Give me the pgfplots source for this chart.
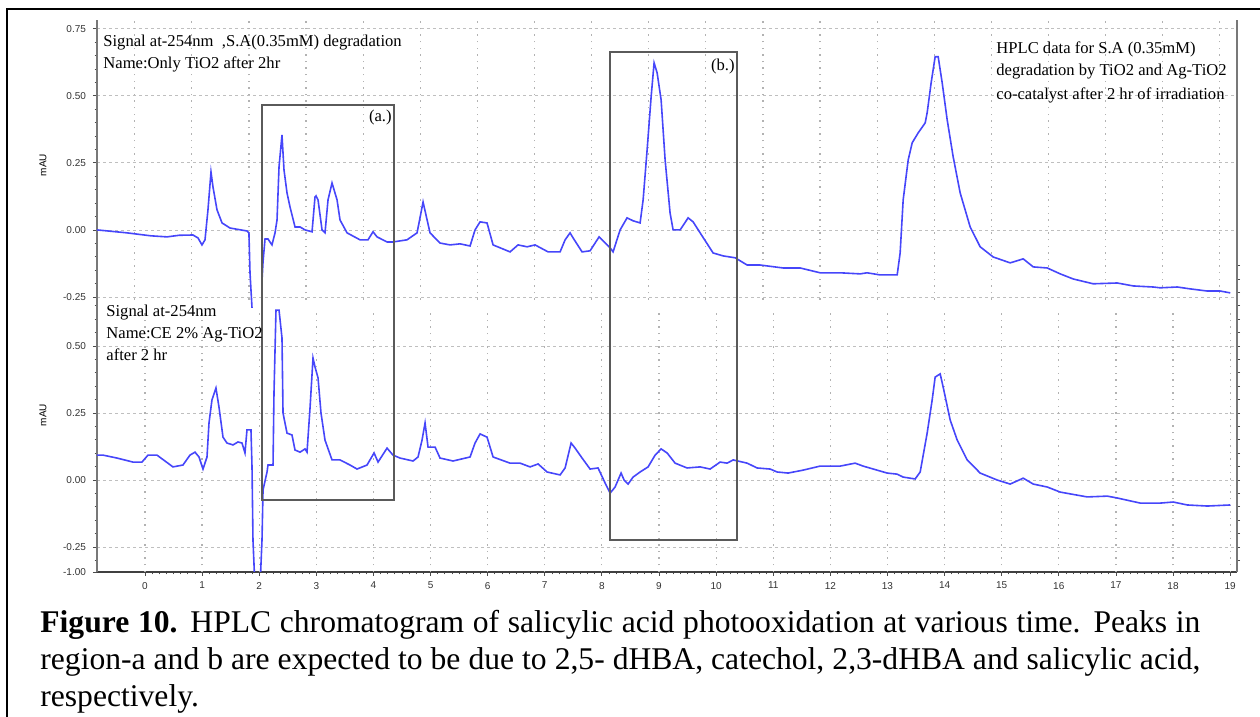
\documentclass[border=0pt]{standalone}
\usepackage{fontspec}
\setmainfont{Liberation Serif}
\setsansfont{Liberation Sans}
\usepackage{pgfplots}
\usepackage{pgfplotstable}
\pgfplotsset{compat=1.18}
\definecolor{trace}{RGB}{70,70,250}
\definecolor{axgray}{RGB}{120,120,120}
\definecolor{boxgray}{RGB}{90,90,90}

\pgfplotstableread{
x y
-0.84 0
-0.315 -0.011
0.10 -0.022
0.385 -0.026
0.60 -0.020
0.84 -0.019
0.928 -0.030
0.998 -0.056
1.051 -0.037
1.103 0.075
1.156 0.216
1.191 0.160
1.261 0.075
1.349 0.026
1.489 0.007
1.786 -0.004
1.820 -0.011
1.839 -0.160
1.874 -0.291
}\topA

\pgfplotstableread{
x y
2.049 -0.291
2.049 -0.190
2.067 -0.119
2.102 -0.034
2.154 -0.034
2.224 -0.056
2.277 -0.011
2.312 0.037
2.347 0.235
2.399 0.354
2.434 0.224
2.487 0.138
2.539 0.086
2.627 0.011
2.715 0.011
2.802 0
2.925 -0.007
2.977 0.123
2.995 0.127
3.030 0.112
3.100 0
3.152 -0.011
3.205 0.112
3.275 0.175
3.363 0.112
3.415 0.037
3.538 -0.011
3.765 -0.037
3.905 -0.037
3.993 -0.007
4.063 -0.026
4.238 -0.045
4.343 -0.045
4.588 -0.037
4.764 -0.011
4.869 0.104
4.991 -0.011
5.166 -0.049
5.342 -0.056
5.517 -0.052
5.692 -0.060
5.779 0
5.867 0.030
5.989 0.026
6.095 -0.056
6.392 -0.082
6.532 -0.056
6.690 -0.063
6.830 -0.056
7.058 -0.082
7.268 -0.082
7.356 -0.037
7.443 -0.011
7.496 -0.030
7.653 -0.082
7.793 -0.078
7.951 -0.026
8.144 -0.067
8.196 -0.082
8.319 0
8.441 0.045
8.546 0.034
8.669 0.026
8.722 0.112
8.792 0.299
8.862 0.496
8.914 0.623
8.967 0.586
9.037 0.485
9.107 0.261
9.194 0.063
9.247 0
9.370 0
9.510 0.045
9.597 0.030
9.720 -0.011
9.947 -0.086
10.123 -0.097
10.333 -0.104
10.543 -0.131
10.771 -0.131
11.173 -0.142
11.471 -0.142
11.821 -0.160
12.172 -0.160
12.522 -0.164
12.644 -0.160
12.872 -0.168
13.170 -0.168
13.222 -0.086
13.275 0.112
13.363 0.261
13.433 0.325
13.538 0.362
13.660 0.399
13.695 0.437
13.765 0.549
13.835 0.646
13.888 0.646
13.958 0.549
14.046 0.410
14.151 0.272
14.273 0.138
14.448 0.011
14.623 -0.063
14.851 -0.101
15.149 -0.123
15.377 -0.108
15.552 -0.138
15.797 -0.142
16.025 -0.164
16.252 -0.183
16.602 -0.201
17.023 -0.198
17.303 -0.209
17.653 -0.213
17.776 -0.216
18.074 -0.213
18.301 -0.220
18.599 -0.228
18.827 -0.228
19.002 -0.235
}\topB

\pgfplotstableread{
x y
-0.84 0.093
-0.736 0.093
-0.49 0.082
-0.21 0.067
-0.053 0.067
0.053 0.093
0.21 0.093
0.49 0.049
0.665 0.056
0.788 0.093
0.876 0.104
0.946 0.086
1.016 0.041
1.086 0.086
1.121 0.213
1.173 0.299
1.243 0.343
1.296 0.272
1.366 0.160
1.436 0.138
1.541 0.131
1.629 0.142
1.699 0.138
1.751 0.101
1.786 0.187
1.856 0.187
1.874 0.049
1.891 -0.224
1.926 -0.400
2.014 -0.400
2.049 -0.224
2.067 -0.037
2.137 0.030
2.154 0.056
2.242 0.056
2.259 0.325
2.294 0.634
2.347 0.634
2.399 0.530
2.417 0.250
2.487 0.175
2.574 0.168
2.627 0.112
2.715 0.104
2.802 0.116
2.837 0.104
2.890 0.269
2.942 0.455
2.977 0.422
3.030 0.381
3.082 0.250
3.152 0.149
3.275 0.075
3.415 0.075
3.590 0.056
3.713 0.041
3.888 0.056
4.011 0.101
4.081 0.067
4.238 0.119
4.343 0.093
4.466 0.082
4.694 0.071
4.781 0.086
4.851 0.149
4.904 0.213
4.956 0.123
5.079 0.123
5.166 0.082
5.394 0.071
5.692 0.086
5.779 0.138
5.867 0.172
5.989 0.160
6.095 0.086
6.392 0.063
6.567 0.063
6.743 0.049
6.883 0.060
7.040 0.030
7.268 0.019
7.356 0.045
7.461 0.138
7.531 0.119
7.653 0.082
7.793 0.041
7.933 0.045
8.056 -0.011
8.144 -0.049
8.231 -0.026
8.336 0.026
8.389 0.000
8.459 -0.015
8.546 0.011
8.669 0.030
8.809 0.049
8.932 0.093
9.037 0.116
9.142 0.101
9.282 0.063
9.492 0.045
9.720 0.049
9.895 0.041
10.070 0.067
10.193 0.063
10.298 0.075
10.543 0.063
10.718 0.045
10.946 0.041
11.068 0.030
11.261 0.026
11.524 0.037
11.821 0.052
12.172 0.052
12.434 0.063
12.574 0.052
12.995 0.026
13.170 0.022
13.275 0.011
13.485 0.004
13.573 0.030
13.695 0.175
13.783 0.299
13.835 0.384
13.923 0.396
13.975 0.347
14.098 0.224
14.221 0.149
14.396 0.075
14.623 0.026
14.921 0
15.149 -0.015
15.377 0.007
15.552 -0.015
15.797 -0.026
16.025 -0.045
16.497 -0.063
16.848 -0.060
17.023 -0.067
17.426 -0.086
17.776 -0.086
18.004 -0.082
18.249 -0.093
18.599 -0.097
19.002 -0.093
}\bottomtrace

\begin{document}
\begin{tikzpicture}
\useasboundingbox (0,0) rectangle (630pt,358.5pt);
% outer frame
\draw[line width=1pt] (3.5pt,0) -- (3.5pt,354pt) -- (630pt,354pt);

\begin{axis}[
  at={(48.5pt,72.5pt)}, anchor=south west,
  scale only axis, width=570pt, height=276pt,
  xmin=-0.84, xmax=19.12, ymin=-0.343, ymax=1.716,
  axis x line*=bottom, axis y line*=left,
  axis line style={axgray, line width=0.6pt},
  x axis line style={black!75},
  tick align=outside,
  major tick length=2pt, minor tick length=1.2pt,
  tick style={black!70, line width=0.4pt},
  xtick={0,...,19}, minor x tick num=7,
  ytick={-0.343,-0.25,0,0.25,0.5,0.683,0.933,1.183,1.433,1.683},
  yticklabels={-1.00,-0.25,0.00,0.25,0.50,-0.25,0.00,0.25,0.50,0.75},
  minor ytick={-0.30,-0.20,-0.15,-0.10,-0.05,0.05,0.10,0.15,0.20,0.30,0.35,0.40,0.45,0.55,0.60,0.65,
    0.733,0.783,0.833,0.883,0.983,1.033,1.083,1.133,1.233,1.283,1.333,1.383,1.483,1.533,1.583,1.633},
  ymajorgrids,
  grid style={gray!50, line width=0.4pt, dash pattern=on 1.5pt off 1.5pt},
  /pgf/number format/assume math mode=true,
  ticklabel style={font=\sffamily\fontsize{5}{6}\selectfont, text=black!80},
  xticklabel style={yshift=0.5pt},
  clip=true,
]
\pgfplotsinvokeforeach{0,...,19}{
  \draw[gray!60, line width=0.6pt, dash pattern=on 0.7pt off 2.6pt] (axis cs:#1,-0.343) -- (axis cs:#1,0.64);
  \draw[gray!60, line width=0.6pt, dash pattern=on 0.7pt off 2.6pt] (axis cs:#1-0.18,0.672) -- (axis cs:#1-0.18,1.716);
}
\addplot[trace, line width=0.8pt] table[y expr=\thisrow{y}+0.933] {\topA};
\addplot[trace, line width=0.8pt] table[y expr=\thisrow{y}+0.933] {\topB};
\addplot[trace, line width=0.8pt] table {\bottomtrace};
\draw[boxgray, line width=0.8pt] (axis cs:2.05,-0.0746) rectangle (axis cs:4.36,1.399);
\draw[boxgray, line width=0.8pt] (axis cs:8.14,-0.224) rectangle (axis cs:10.37,1.597);
\end{axis}

% right axis with ticks for the lower panel
\begin{axis}[
  at={(48.5pt,72.5pt)}, anchor=south west,
  scale only axis, width=570pt, height=276pt,
  xmin=-0.84, xmax=19.12, ymin=-0.343, ymax=1.716,
  axis x line=none, axis y line*=right,
  axis line style={axgray, line width=0.6pt},
  tick align=outside, major tick length=1.5pt,
  tick style={black!70, line width=0.4pt},
  ytick={-0.30,-0.25,-0.20,-0.15,-0.10,-0.05,0,0.05,0.10,0.15,0.20,0.25,0.30,0.35,0.40,0.45,0.50,0.55,0.60,0.65,0.70,0.75,0.80},
  yticklabels={},
]
\end{axis}

% y axis titles
\node[rotate=90, font=\sffamily\fontsize{5}{6}\selectfont] at (21.5pt,276pt) {mAU};
\node[rotate=90, font=\sffamily\fontsize{5}{6}\selectfont] at (21.5pt,151pt) {mAU};

% annotations
\begin{scope}[every node/.style={anchor=base west, inner sep=0pt, font=\fontsize{8.3}{10}\selectfont}]
\node at (51.5pt,335pt) {Signal at-254nm\ \ ,S.A(0.35mM) degradation};
\node at (51.5pt,324pt) {Name:Only TiO2 after 2hr};
\node at (53pt,200pt) {Signal at-254nm};
\node at (53pt,189pt) {Name:CE 2\% Ag-TiO2};
\node at (53pt,178pt) {after 2 hr};
\node at (498pt,331.5pt) {HPLC data for S.A (0.35mM)};
\node at (498pt,320.5pt) {degradation by TiO2 and Ag-TiO2};
\node at (498pt,308.5pt) {co-catalyst after 2 hr of irradiation};
\node[anchor=base east] at (196pt,297.5pt) {(a.)};
\node[anchor=base east] at (367.5pt,323pt) {(b.)};
\end{scope}

% caption
\begin{scope}[every node/.style={anchor=base west, inner sep=0pt, font=\fontsize{15.8}{18}\selectfont}]
\node at (20pt,42pt) {\makebox[580pt][s]{\textbf{Figure 10.} HPLC chromatogram of salicylic acid photooxidation at various time. Peaks in}};
\node at (20pt,23.5pt) {\makebox[580pt][s]{region-a and b are expected to be due to 2,5- dHBA, catechol, 2,3-dHBA and salicylic acid,}};
\node at (20pt,5pt) {respectively.};
\end{scope}
\end{tikzpicture}
\end{document}
